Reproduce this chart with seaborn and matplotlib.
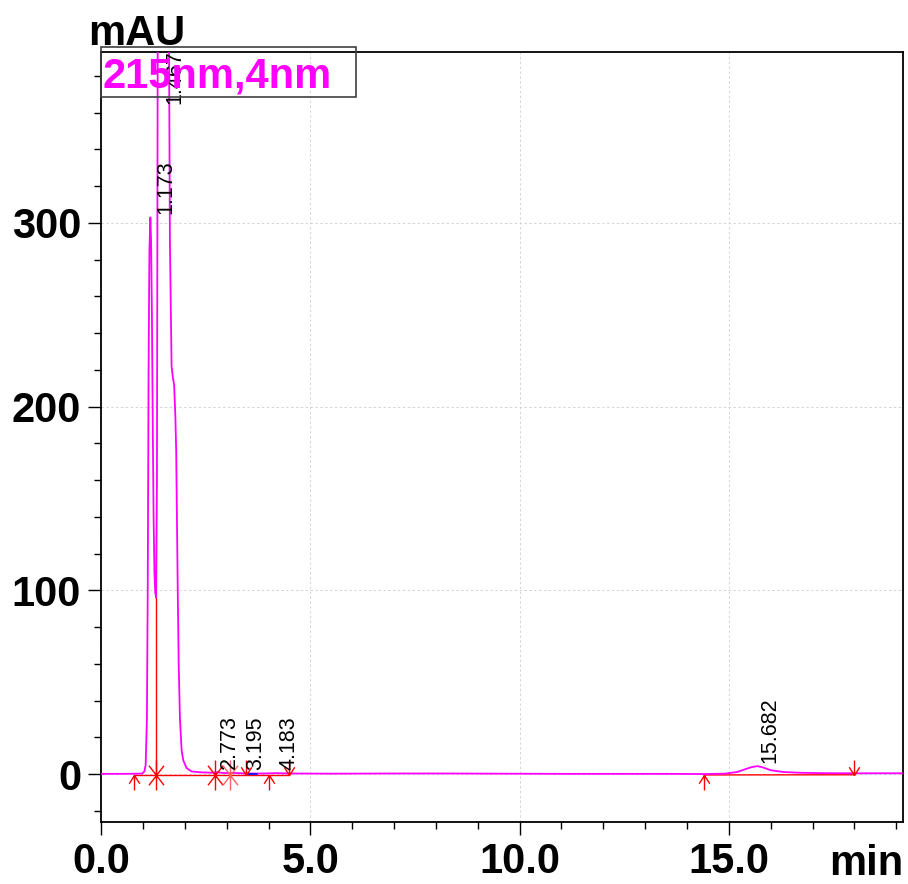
import numpy as np
import pandas as pd
import matplotlib
matplotlib.use("Agg")
import matplotlib.pyplot as plt
from matplotlib.path import Path
from matplotlib.patches import Rectangle
from matplotlib.ticker import MultipleLocator, FixedLocator, FixedFormatter
import seaborn as sns

# ---- chromatogram trace, 215 nm (time in min, absorbance in mAU) ----
time_min = [0.0, 0.5, 0.9, 0.98, 1.03, 1.06, 1.09, 1.11, 1.13, 1.15, 1.173,
            1.19, 1.21, 1.23, 1.25, 1.27, 1.29, 1.31, 1.33, 1.35, 1.38, 1.42,
            1.467, 1.52, 1.57, 1.60, 1.62, 1.64, 1.68, 1.71, 1.74, 1.77, 1.79,
            1.81, 1.83, 1.85, 1.88, 1.92, 1.96, 2.04, 2.16, 2.4, 2.65, 2.773,
            2.9, 3.05, 3.195, 3.35, 3.6, 3.9, 4.183, 4.5, 5.5, 7.0, 8.3, 9.5,
            11.0, 12.5, 13.5, 14.4, 14.9, 15.2, 15.4, 15.55, 15.682, 15.8,
            16.0, 16.3, 16.7, 17.2, 18.0, 19.17]
signal_mau = [0.2, 0.2, 0.3, 0.4, 1.5, 5.0, 30.0, 100.0, 220.0, 285.0, 303.0,
              290.0, 250.0, 190.0, 140.0, 110.0, 99.0, 96.0, 160.0, 420.0,
              700.0, 920.0, 1000.0, 900.0, 650.0, 500.0, 393.0, 290.0, 222.0,
              216.0, 212.0, 195.0, 176.0, 135.0, 95.0, 60.0, 30.0, 13.0, 7.5,
              3.3, 1.5, 1.0, 0.8, 1.1, 0.7, 0.6, 0.7, 0.5, 0.4, 0.4, 0.6, 0.4,
              0.3, 0.4, 0.4, 0.3, 0.2, 0.2, 0.2, 0.1, 0.3, 1.2, 2.8, 3.9, 4.4,
              3.8, 2.2, 1.2, 0.8, 0.6, 0.5, 0.5]

# ---- integration results ----
peak_rt = [1.173, 1.467, 2.773, 3.195, 4.183, 15.682]
start_marks = [0.77, 4.0, 14.4]          # integration start
end_marks = [3.45, 4.48, 18.0]           # integration end
valley_marks = [1.31, 2.72, 3.07]        # peak-to-peak boundaries
drop_t = [1.31]
drop_top = [96.0]
baseline_segments = [(0.77, 4.48, -0.5, -0.5), (14.4, 18.0, -0.4, -0.3)]
blue_segment = (3.51, 3.72, 0.0)

# ---- axis ranges and ticks ----
x_range = (0.0, 19.17)
y_range = (-26.0, 393.0)
x_major = [0.0, 5.0, 10.0, 15.0]
x_labels = ["0.0", "5.0", "10.0", "15.0"]
y_major = [0, 100, 200, 300]
y_labels = ["0", "100", "200", "300"]

# ---- styling ----
sns.set_style("ticks")
plt.rcParams["font.family"] = ["Liberation Sans", "DejaVu Sans"]
plt.rcParams.update({"text.color": "black", "axes.labelcolor": "black",
                     "xtick.color": "black", "ytick.color": "black",
                     "axes.edgecolor": "black"})
TRACE = "#FF00FF"
RED = "#FF0000"
W, H = 908, 884

fig = plt.figure(figsize=(W / 100, H / 100), dpi=100)
ax = fig.add_axes([101.3 / W, 1 - 822 / H, (903.3 - 101.3) / W, (822 - 52) / H])

# grid underneath everything
ax.grid(True, which="major", color="#d4d4d4", ls=(0, (2.5, 2.5)), lw=0.7,
        zorder=0)

df = pd.DataFrame({"time": time_min, "signal": signal_mau})
sns.lineplot(data=df, x="time", y="signal", ax=ax, color=TRACE, lw=1.3,
             sort=False, estimator=None, zorder=3)

# integration baselines
for x0, x1, y0, y1 in baseline_segments:
    ax.plot([x0, x1], [y0, y1], color=RED, lw=1.0, zorder=2)
ax.plot([blue_segment[0], blue_segment[1]], [blue_segment[2]] * 2,
        color="#0000FF", lw=1.2, zorder=4)

# perpendicular drop at the valley
for t, top in zip(drop_t, drop_top):
    ax.plot([t, t], [-0.5, top], color=RED, lw=1.0, zorder=4)

# event marker shapes
up_arrow = Path([(0, 0), (0, -2), (-0.7, -1.1), (0, 0), (0.7, -1.1)],
                [Path.MOVETO, Path.LINETO, Path.MOVETO, Path.LINETO, Path.LINETO])
down_arrow = Path([(0, 0), (0, 2), (-0.7, 1.1), (0, 0), (0.7, 1.1)],
                  [Path.MOVETO, Path.LINETO, Path.MOVETO, Path.LINETO, Path.LINETO])
star = Path([(0, -2), (0, 2), (-1, -1.3), (1, 1.3), (-1, 1.3), (1, -1.3)],
            [Path.MOVETO, Path.LINETO, Path.MOVETO, Path.LINETO,
             Path.MOVETO, Path.LINETO])

mk = dict(ls="none", ms=21.6, mfc="none", mew=1.0, zorder=5)
ax.plot(start_marks, [-0.5] * len(start_marks), marker=up_arrow, mec=RED, **mk)
ax.plot(end_marks, [-0.5] * len(end_marks), marker=down_arrow, mec=RED, **mk)
ax.plot(valley_marks[:2], [-0.5] * 2, marker=star, mec=RED, **mk)
ax.plot(valley_marks[2:], [-0.5], marker=star, mec="#FF6060", **mk)

ax.set_xlim(*x_range)
ax.set_ylim(*y_range)

# retention-time labels
label_dx = {1.173: 5, 3.195: 10}
for rt in peak_rt:
    h = float(np.interp(rt, time_min, signal_mau))
    dx = label_dx.get(rt, 2)
    if h > y_range[1]:
        ax.annotate(f"{rt:.3f}", xy=(rt, y_range[1]), xytext=(dx, 2),
                    textcoords="offset pixels", rotation=90, ha="left",
                    va="top", fontsize=15.5, color="black", zorder=6,
                    annotation_clip=False)
    else:
        ax.annotate(f"{rt:.3f}", xy=(rt, h), xytext=(dx, 3),
                    textcoords="offset pixels", rotation=90, ha="left",
                    va="bottom", fontsize=15.5, color="black", zorder=6)

# ticks
ax.xaxis.set_major_locator(FixedLocator(x_major))
ax.xaxis.set_major_formatter(FixedFormatter(x_labels))
ax.xaxis.set_minor_locator(MultipleLocator(1.0))
ax.yaxis.set_major_locator(FixedLocator(y_major))
ax.yaxis.set_major_formatter(FixedFormatter(y_labels))
ax.yaxis.set_minor_locator(MultipleLocator(20))
ax.tick_params(axis="both", which="major", direction="out", length=9.5,
               width=1.0, color="black", labelcolor="black", labelsize=30,
               pad=5)
ax.tick_params(axis="both", which="minor", direction="out", length=5,
               width=1.0, color="black")
ax.tick_params(axis="x", which="major", pad=5)
for lab in ax.get_xticklabels() + ax.get_yticklabels():
    lab.set_fontweight("bold")
ax.set_xlabel("")
ax.set_ylabel("")
for s in ax.spines.values():
    s.set_visible(True)
    s.set_color("black")
    s.set_linewidth(1.3)

# axis unit captions
fig.text(88 / W, 1 - 45 / H, "mAU", fontsize=30, fontweight="bold",
         color="black", ha="left", va="baseline")
fig.text(903 / W, 1 - 875 / H, "min", fontsize=30, fontweight="bold",
         color="black", ha="right", va="baseline")

# channel caption box
fig.patches.append(Rectangle((101 / W, 1 - 97 / H), 255 / W, 50 / H,
                             transform=fig.transFigure, fill=False,
                             edgecolor="#404040", lw=1.2, zorder=7))
fig.text(102 / W, 1 - 88 / H, "215nm,4nm", fontsize=30, fontweight="bold",
         color=TRACE, ha="left", va="baseline", zorder=7)

fig.savefig("out.png", dpi=100)
